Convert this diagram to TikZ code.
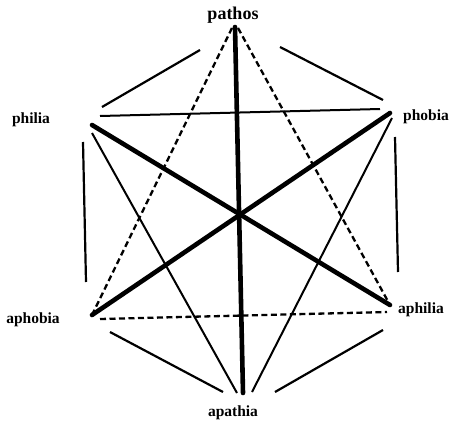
\documentclass[tikz,border=0pt]{standalone}
\usepackage{fontspec}
\setmainfont{Liberation Serif}
\begin{document}
\begin{tikzpicture}[x=1pt,y=-1pt,
  lbl/.style={font=\bfseries\fontsize{15.5}{16}\selectfont, inner sep=0pt},
  heavy/.style={line width=4.6pt, line cap=round},
  thinline/.style={line width=2pt},
  dashline/.style={line width=2.3pt, dash pattern=on 6pt off 3.5pt},
  sideline/.style={line width=2.2pt}]
\useasboundingbox (0,0) rectangle (452,423);
% vertices
\coordinate (P) at (235,27);
\coordinate (Q) at (390,113);
\coordinate (R) at (390,305);
\coordinate (A) at (243,393);
\coordinate (B) at (92,315);
\coordinate (L) at (92,125);
% labels
\node[lbl, font=\bfseries\fontsize{18}{19}\selectfont] (tpathos) at (233,15) {pathos};
\node[lbl] (tphilia) at (31,120) {philia};
\node[lbl] (tphobia) at (426,117) {phobia};
\node[lbl] (taphobia) at (33,320) {aphobia};
\node[lbl] (taphilia) at (421,310) {aphilia};
\node[lbl] (tapathia) at (233,413) {apathia};
% thick diagonals
\draw[heavy] (L) -- (R);
\draw[heavy] (Q) -- (B);
\draw[heavy] (P) -- (A);
% dashed
\coordinate (Pl) at (232,28);
\coordinate (Pr) at (238,28);
\draw[dashline] (Pl) -- (B);
\draw[dashline] (Pr) -- (R);
\coordinate (b1) at (100,319);
\coordinate (b2) at (387,312);
\draw[dashline] (b1) -- (b2);
% thin to apathia
\coordinate (L2) at (92,133);
\coordinate (A1) at (237,393);
\coordinate (Q2) at (392,118);
\coordinate (A2) at (252,392);
\draw[thinline] (L2) -- (A1);
\draw[thinline] (Q2) -- (A2);
% horizontal top
\coordinate (h1) at (100,116);
\coordinate (h2) at (380,109);
\draw[thinline] (h1) -- (h2);
% hexagon sides (gapped)
\coordinate (s1a) at (200,50);  \coordinate (s1b) at (102,107);
\coordinate (s2a) at (280,47);  \coordinate (s2b) at (383,100);
\coordinate (s3a) at (83,142);  \coordinate (s3b) at (86,282);
\coordinate (s4a) at (395,137); \coordinate (s4b) at (398,272);
\coordinate (s5a) at (110,332); \coordinate (s5b) at (223,392);
\coordinate (s6a) at (383,330); \coordinate (s6b) at (275,392);
\draw[sideline] (s1a) -- (s1b);
\draw[sideline] (s2a) -- (s2b);
\draw[sideline] (s3a) -- (s3b);
\draw[sideline] (s4a) -- (s4b);
\draw[sideline] (s5a) -- (s5b);
\draw[sideline] (s6a) -- (s6b);
\end{tikzpicture}
\end{document}
